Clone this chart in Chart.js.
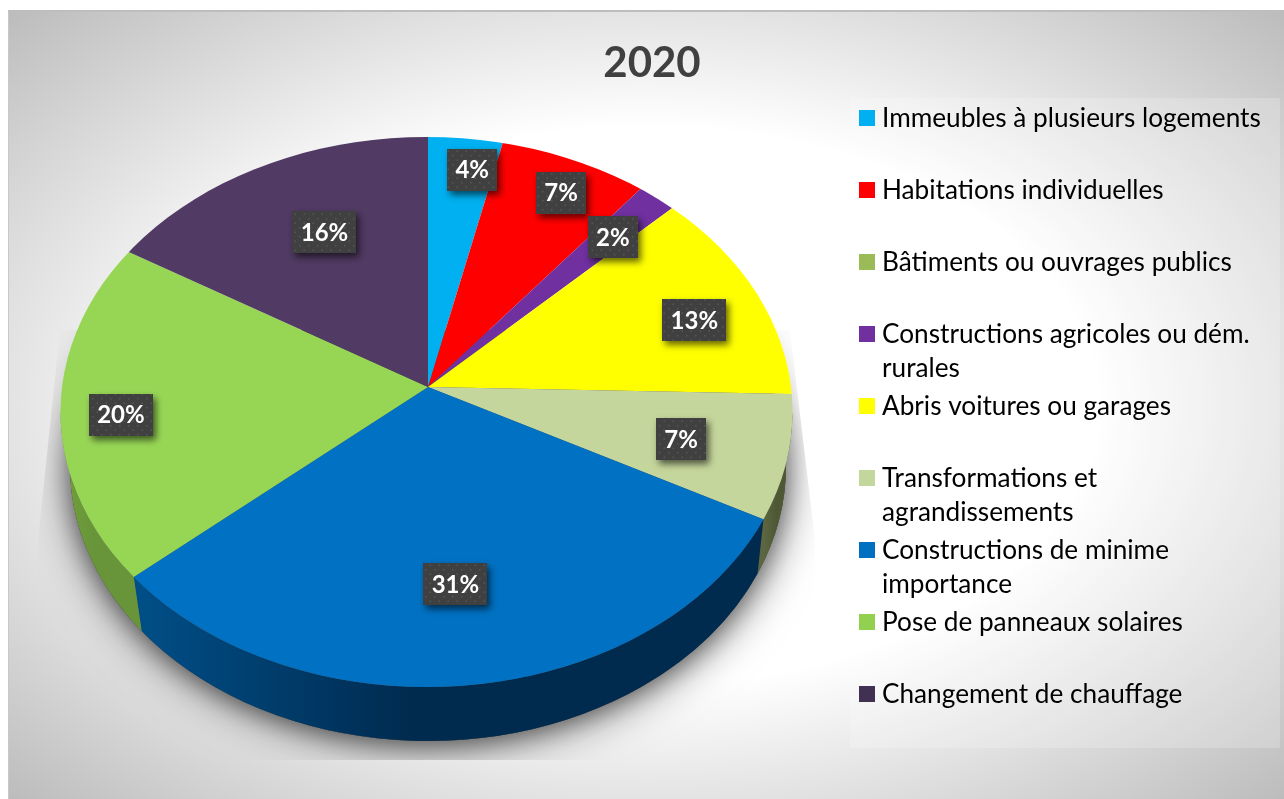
<!DOCTYPE html>
<html>
<head>
<meta charset="utf-8">
<title>2020</title>
<script src="https://cdn.jsdelivr.net/npm/chart.js@4"></script>
<style>
  html, body { margin: 0; padding: 0; background: #fff; }
  #frame {
    position: absolute; left: 8px; top: 10px; width: 1276px; height: 789px;
    box-sizing: border-box; border-top: 2px solid #bdbdbd; border-left: 1px solid #c8c8c8;
    background: radial-gradient(ellipse farthest-corner at 50% 50%, #fff 50%, #bcbcbc 100%);
  }
  canvas { position: absolute; left: 0; top: 0; }
</style>
</head>
<body>
<div id="frame"></div>
<canvas id="chart" width="1284" height="799"></canvas>
<script>
  // ---------- DATA ----------
  const chartTitle = "2020";
  const categories = [
    "Immeubles à plusieurs logements", "Habitations individuelles", "Bâtiments ou ouvrages publics",
    "Constructions agricoles ou dém. rurales", "Abris voitures ou garages",
    "Transformations et agrandissements", "Constructions de minime importance",
    "Pose de panneaux solaires", "Changement de chauffage"
  ];
  const shares = [3.6, 7.2, 0, 1.9, 12.7, 7.3, 31.0, 19.9, 16.4];

  // ---------- COLORS ----------
  const faceColors = ["#00B0F0", "#FF0000", "#9BBB59", "#7030A0", "#FFFF00", "#C4D69B", "#0071C3", "#97D655", "#513A63"];
  const legendColors = ["#00B0F0", "#FF0000", "#9BBB59", "#7030A0", "#FFFF00", "#C3D69B", "#0070C0", "#92D050", "#403152"];
  const wallColors = [
    ["#006f98", "#006f98"], ["#990000", "#990000"], ["#5d7035", "#5d7035"], ["#431d60", "#431d60"],
    ["#8f8f00", "#8f8f00"], ["#5c6640", "#4e5835"], ["#004f88", "#002a4e"], ["#72a03a", "#68953a"], ["#2a2036", "#2a2036"]
  ];
  // percent tags: how far out along the slice, and a small turn off its middle (degrees)
  const tagReach = [0.80, 0.795, 0, 0.743, 0.767, 0.717, 0.72, 0.845, 0.629];
  const tagTurn = [2.2, 1.3, 0, 0.5, 3, 0.7, 0.5, -2, 2.8];

  // ---------- PIE SHAPE ----------
  // the apex sits above the middle of the rim, the picture is in perspective
  const apexX = 428, apexY = 387;
  const rimX = 426.5, rimY = 412, rimRx = 366, rimRy = 275;
  const baseX = 428, baseY = 466, baseRx = 358;

  const FONT = "Lato, Carlito, Calibri, sans-serif";

  function dotPattern(ctx) {
    const tile = document.createElement("canvas");
    tile.width = 9; tile.height = 9;
    const t = tile.getContext("2d");
    t.fillStyle = "#404040";
    t.fillRect(0, 0, 9, 9);
    t.fillStyle = "#565656";
    t.fillRect(2, 2, 1.5, 1.5);
    t.fillRect(6.5, 6.5, 1.5, 1.5);
    return ctx.createPattern(tile, "repeat");
  }

  function drawShadow(ctx) {
    ctx.save();
    ctx.beginPath();
    ctx.moveTo(60, 330); ctx.lineTo(38, 540); ctx.lineTo(38, 760);
    ctx.lineTo(815, 760); ctx.lineTo(815, 540); ctx.lineTo(790, 330);
    ctx.closePath();
    ctx.clip();
    ctx.shadowOffsetY = 4;
    ctx.fillStyle = "#555";
    // a wide soft pass and a tighter one next to the wall
    [[45, 0.6], [22, 0.35]].forEach(([blur, alpha]) => {
      ctx.shadowColor = "rgba(0,0,0," + alpha + ")";
      ctx.shadowBlur = blur;
      ctx.beginPath();
      ctx.ellipse(baseX, baseY, baseRx, rimRy, 0, 0, Math.PI * 2);
      ctx.fill();
    });
    ctx.restore();
  }

  // where a slice edge leaving the apex meets the rim, as an ellipse angle
  function rimAngle(a) {
    const px = (apexX - rimX) / rimRx, py = (apexY - rimY) / rimRy;
    const dx = Math.cos(a), dy = Math.sin(a);
    const b = px * dx + py * dy;
    const s = -b + Math.sqrt(b * b + 1 - px * px - py * py);
    const t = Math.atan2(py + s * dy, px + s * dx);
    return t < -Math.PI / 2 ? t + Math.PI * 2 : t;
  }

  function drawWalls(ctx, meta) {
    meta.data.forEach((arc, i) => {
      const from = Math.max(rimAngle(arc.startAngle), 0);
      const to = Math.min(rimAngle(arc.endAngle), Math.PI);
      if (arc.circumference === 0 || to <= from) return;
      const xs = [from, to].map((t) => rimX + rimRx * Math.cos(t));
      const gradient = ctx.createLinearGradient(Math.min(...xs), 0, Math.max(...xs), 0);
      gradient.addColorStop(0, wallColors[i][0]);
      gradient.addColorStop(0.45, wallColors[i][1]);
      gradient.addColorStop(1, wallColors[i][1]);
      ctx.fillStyle = gradient;
      ctx.beginPath();
      ctx.ellipse(rimX, rimY, rimRx, rimRy, 0, from, to);
      ctx.ellipse(baseX, baseY, baseRx, rimRy, 0, to, from, true);
      ctx.closePath();
      ctx.fill();
    });
  }

  // the Chart.js circle is squashed, its rim is then cut by the perspective ellipse
  function drawFace(chart, meta) {
    const ctx = chart.ctx;
    const first = meta.data[0];
    ctx.save();
    ctx.beginPath();
    ctx.ellipse(rimX, rimY, rimRx, rimRy, 0, 0, Math.PI * 2);
    ctx.clip();
    ctx.translate(apexX, apexY);
    ctx.scale(1, rimRy / rimRx);
    ctx.translate(-first.x, -first.y);
    meta.controller.draw();
    ctx.restore();
  }

  function drawTags(chart, meta) {
    const ctx = chart.ctx;
    const pattern = dotPattern(ctx);
    ctx.save();
    ctx.textAlign = "center";
    ctx.textBaseline = "middle";
    ctx.font = "bold 24px " + FONT;
    meta.data.forEach((arc, i) => {
      if (!shares[i]) return;
      const mid = (arc.startAngle + arc.endAngle) / 2 + tagTurn[i] * Math.PI / 180;
      const x = apexX + rimRx * tagReach[i] * Math.cos(mid);
      const y = apexY + rimRy * tagReach[i] * Math.sin(mid);
      const text = Math.round(shares[i]) + "%";
      const w = text.length > 2 ? 64 : 50;
      ctx.save();
      ctx.shadowColor = "rgba(0,0,0,0.6)";
      ctx.shadowBlur = 7;
      ctx.shadowOffsetX = 3;
      ctx.shadowOffsetY = 4;
      ctx.fillStyle = pattern;
      ctx.fillRect(Math.round(x - w / 2), Math.round(y - 21), w, 42);
      ctx.restore();
      ctx.fillStyle = "#fff";
      ctx.fillText(text, x, y + 1);
    });
    ctx.restore();
  }

  function wrapText(ctx, text, maxWidth) {
    const lines = [];
    let line = "";
    text.split(" ").forEach((word) => {
      const next = line ? line + " " + word : word;
      if (ctx.measureText(next).width > maxWidth && line) {
        lines.push(line);
        line = word;
      } else {
        line = next;
      }
    });
    lines.push(line);
    return lines;
  }

  function drawLegend(ctx) {
    ctx.save();
    ctx.fillStyle = "rgba(255,255,255,0.2)";
    ctx.fillRect(850, 98, 430, 650);
    ctx.font = "26.2px " + FONT;
    ctx.textBaseline = "middle";
    categories.forEach((name, i) => {
      const y = 118 + i * 72;
      ctx.fillStyle = legendColors[i];
      ctx.fillRect(859, y - 8, 16, 16);
      ctx.fillStyle = "#000";
      wrapText(ctx, name, 385).forEach((line, n) => {
        ctx.fillText(line, 882, y + 1 + n * 34);
      });
    });
    ctx.restore();
  }

  const pie3d = {
    id: "pie3d",
    beforeDatasetDraw(chart, args) {
      const ctx = chart.ctx;
      drawShadow(ctx);
      drawWalls(ctx, args.meta);
      drawFace(chart, args.meta);
      return false;
    },
    afterDatasetsDraw(chart) {
      drawLegend(chart.ctx);
      drawTags(chart, chart.getDatasetMeta(0));
    }
  };

  new Chart(document.getElementById("chart"), {
    type: "pie",
    plugins: [pie3d],
    data: {
      labels: categories,
      datasets: [{
        data: shares,
        backgroundColor: faceColors,
        borderWidth: 0,
        radius: 480 // bigger than the rim, the clip in drawFace cuts it
      }]
    },
    options: {
      responsive: false,
      animation: false,
      // left padding moves the centred title over to where it sits in the picture
      layout: { padding: { left: 20 } },
      plugins: {
        legend: { display: false },
        tooltip: { enabled: false },
        title: {
          display: true,
          text: chartTitle,
          color: "#404040",
          font: { family: FONT, size: 42, weight: "bold" },
          padding: { top: 38, bottom: 10 }
        }
      }
    }
  });
</script>
</body>
</html>
